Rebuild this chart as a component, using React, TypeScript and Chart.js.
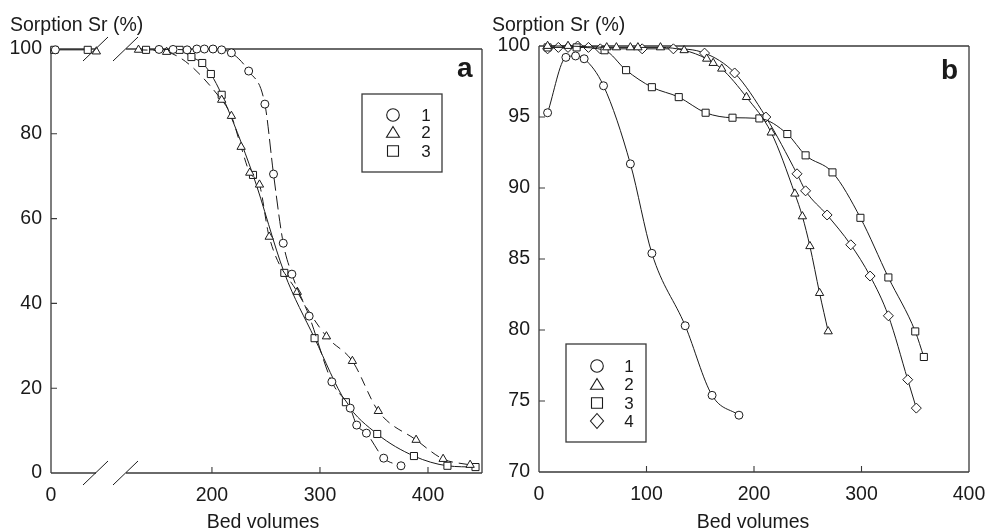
import React, { useEffect, useRef } from "react";
import { Chart, registerables } from "chart.js";

Chart.register(...registerables);

const FONT = "'Liberation Sans', Arial, Helvetica, sans-serif";
const INK = "#1a1a1a";
const FRAME = "#3a3a3a";

// ---------------- Panel a (broken x axis) ----------------
const A_GAP = 51; // axis units removed by the break
const A_X_TICKS = [0, 200, 300, 400];
const A_Y_MIN = 0;
const A_Y_MAX = 100;
const A_Y_STEP = 20;
const A_X_MAX = 450;

const A1_LEFT_X = [4];
const A1_LEFT_Y = [99.8];
const A1_X = [151, 164, 177, 186, 193, 201, 209, 218, 234, 249, 257, 266, 274, 290, 311, 328, 334, 343, 359, 375];
const A1_Y = [99.9, 99.9, 99.8, 100, 100, 100, 99.8, 99.1, 94.8, 87.0, 70.5, 54.2, 46.9, 37.0, 21.5, 15.3, 11.3, 9.4, 3.5, 1.7];

const A2_LEFT_X = [42];
const A2_LEFT_Y = [99.4];
const A2_X = [132, 158, 209, 218, 227, 235, 244, 253, 279, 306, 330, 354, 389, 414, 439];
const A2_Y = [99.8, 99.3, 88.0, 84.2, 76.9, 70.8, 68.0, 55.7, 42.7, 32.2, 26.4, 14.6, 7.8, 3.3, 1.9];

const A3_LEFT_X = [3, 34];
const A3_LEFT_Y = [99.8, 99.8];
const A3_X = [139, 170, 181, 191, 199, 209, 238, 267, 295, 324, 353, 387, 418, 444];
const A3_Y = [99.8, 99.8, 98.1, 96.7, 94.1, 89.2, 70.3, 47.2, 31.8, 16.7, 9.2, 4.0, 1.7, 1.4];

const A_LABELS = ["1", "2", "3"];

// ---------------- Panel b ----------------
const B_X_MIN = 0;
const B_X_MAX = 400;
const B_X_STEP = 100;
const B_Y_MIN = 70;
const B_Y_MAX = 100;
const B_Y_STEP = 5;

const B1_X = [8, 25, 34, 42, 60, 85, 105, 136, 161, 186];
const B1_Y = [95.3, 99.2, 99.3, 99.1, 97.2, 91.7, 85.4, 80.3, 75.4, 74.0];

const B2_X = [8, 27, 63, 72, 85, 92, 113, 135, 156, 162, 170, 193, 216, 238, 245, 252, 261, 269];
const B2_Y = [100, 100, 99.9, 99.9, 99.9, 99.9, 99.9, 99.7, 99.1, 98.8, 98.4, 96.4, 93.9, 89.6, 88.0, 85.9, 82.6, 79.9];

const B3_X = [8, 35, 61, 81, 105, 130, 155, 180, 205, 231, 248, 273, 299, 325, 350, 358];
const B3_Y = [99.9, 99.9, 99.7, 98.3, 97.1, 96.4, 95.3, 94.95, 94.9, 93.8, 92.3, 91.1, 87.9, 83.7, 79.9, 78.1];

const B4_X = [8, 18, 27, 36, 46, 57, 96, 125, 154, 182, 211, 240, 248, 268, 290, 308, 325, 343, 351];
const B4_Y = [99.8, 99.9, 99.9, 100, 99.9, 99.8, 99.8, 99.8, 99.5, 98.1, 95.0, 91.0, 89.8, 88.1, 86.0, 83.8, 81.0, 76.5, 74.5];

const B_LABELS = ["1", "2", "3", "4"];

// ---------------- helpers ----------------
const toA = (v: number) => (v < 80 ? v : v - A_GAP);
const fromA = (t: number) => (t < 60 ? t : t + A_GAP);

function pts(xs: number[], ys: number[], tf: (v: number) => number = (v) => v) {
  return xs.map((x, i) => ({ x: tf(x), y: ys[i] }));
}

function brokenPts(lx: number[], ly: number[], rx: number[], ry: number[]) {
  return [...pts(lx, ly, toA), { x: 55, y: null as any }, ...pts(rx, ry, toA)];
}

type Sym = "circle" | "triangle" | "rect" | "rectRot";
const SYM_RADIUS: Record<Sym, number> = { circle: 4, triangle: 4.8, rect: 5, rectRot: 5 };

function ds(data: any[], sym: Sym, dash: number[]) {
  return {
    data,
    borderColor: INK,
    borderWidth: 1,
    borderDash: dash,
    pointStyle: sym,
    pointRadius: SYM_RADIUS[sym],
    pointBackgroundColor: "#fff",
    pointBorderColor: INK,
    pointBorderWidth: 1,
    cubicInterpolationMode: "monotone" as const,
    spanGaps: false,
    clip: false as any,
    fill: false,
  };
}

function drawSym(ctx: CanvasRenderingContext2D, sym: Sym, x: number, y: number) {
  ctx.beginPath();
  if (sym === "circle") {
    ctx.arc(x, y, 6.3, 0, Math.PI * 2);
  } else if (sym === "triangle") {
    ctx.moveTo(x, y - 6);
    ctx.lineTo(x - 6.5, y + 4.8);
    ctx.lineTo(x + 6.5, y + 4.8);
    ctx.closePath();
  } else if (sym === "rect") {
    ctx.rect(x - 5.5, y - 5.2, 11, 10.4);
  } else {
    ctx.moveTo(x, y - 7.5);
    ctx.lineTo(x + 6.5, y);
    ctx.lineTo(x, y + 7.5);
    ctx.lineTo(x - 6.5, y);
    ctx.closePath();
  }
  ctx.fillStyle = "#fff";
  ctx.fill();
  ctx.strokeStyle = INK;
  ctx.lineWidth = 1.1;
  ctx.stroke();
}

interface Decor {
  broken: boolean;
  xTickVals: number[];
  yTickVals: number[];
  titleX: number;
  xTitleX: number;
  letter: string;
  letterX: number;
  letterY: number;
  legend: { x: number; y: number; w: number; h: number; symX: number; labX: number; rows: number[]; syms: Sym[]; labels: string[] };
}

function decorPlugin(d: Decor) {
  return {
    id: "decor" + d.letter,
    beforeDatasetsDraw(chart: any) {
      const { ctx, chartArea: ca, scales } = chart;
      const xs = scales.x;
      const ys = scales.y;
      ctx.save();
      ctx.strokeStyle = FRAME;
      ctx.lineWidth = 1.3;
      ctx.beginPath();
      // left & right
      ctx.moveTo(ca.left, ca.top);
      ctx.lineTo(ca.left, ca.bottom);
      ctx.moveTo(ca.right, ca.top);
      ctx.lineTo(ca.right, ca.bottom);
      if (d.broken) {
        const g1 = ca.left + 45;
        const g2 = ca.left + 75;
        for (const yy of [ca.top, ca.bottom]) {
          ctx.moveTo(ca.left, yy);
          ctx.lineTo(g1, yy);
          ctx.moveTo(g2, yy);
          ctx.lineTo(ca.right, yy);
        }
      } else {
        ctx.moveTo(ca.left, ca.top);
        ctx.lineTo(ca.right, ca.top);
        ctx.moveTo(ca.left, ca.bottom);
        ctx.lineTo(ca.right, ca.bottom);
      }
      ctx.stroke();
      // inward ticks
      ctx.lineWidth = 1.1;
      ctx.beginPath();
      for (const v of d.xTickVals) {
        const px = xs.getPixelForValue(v);
        if (px <= ca.left + 1 || px >= ca.right - 1) continue;
        ctx.moveTo(px, ca.bottom);
        ctx.lineTo(px, ca.bottom - 6);
      }
      for (const v of d.yTickVals) {
        const py = ys.getPixelForValue(v);
        if (py <= ca.top + 1 || py >= ca.bottom - 1) continue;
        ctx.moveTo(ca.left, py);
        ctx.lineTo(ca.left + 6, py);
      }
      ctx.stroke();
      ctx.restore();
    },
    afterDatasetsDraw(chart: any) {
      if (!d.broken) return;
      const { ctx, chartArea: ca } = chart;
      ctx.save();
      ctx.strokeStyle = INK;
      ctx.lineWidth = 1;
      ctx.beginPath();
      for (const cx of [ca.left + 44.5, ca.left + 74.5]) {
        for (const yy of [ca.top, ca.bottom]) {
          ctx.moveTo(cx - 12.5, yy + 12);
          ctx.lineTo(cx + 12.5, yy - 12);
        }
      }
      ctx.stroke();
      ctx.restore();
    },
    afterDraw(chart: any) {
      const { ctx } = chart;
      ctx.save();
      ctx.fillStyle = INK;
      ctx.textBaseline = "alphabetic";
      ctx.font = `19.5px ${FONT}`;
      ctx.textAlign = "left";
      ctx.fillText("Sorption Sr (%)", d.titleX, 31);
      ctx.textAlign = "center";
      ctx.fillText("Bed volumes", d.xTitleX, 528);
      ctx.font = `bold 28px ${FONT}`;
      ctx.textAlign = "left";
      ctx.fillText(d.letter, d.letterX, d.letterY);
      // legend
      const L = d.legend;
      ctx.strokeStyle = FRAME;
      ctx.lineWidth = 1.3;
      ctx.strokeRect(L.x, L.y, L.w, L.h);
      ctx.font = `17px ${FONT}`;
      ctx.textAlign = "center";
      ctx.textBaseline = "middle";
      L.rows.forEach((ry, i) => {
        drawSym(ctx, L.syms[i], L.symX, ry);
        ctx.fillStyle = INK;
        ctx.fillText(L.labels[i], L.labX, ry + 1);
      });
      ctx.restore();
    },
  };
}

const tickFont = { family: FONT, size: 19.5 };

function makeConfig(opts: {
  datasets: any[];
  xMin: number;
  xMax: number;
  xTicks: number[];
  xLabel: (v: number) => string;
  yMin: number;
  yMax: number;
  yStep: number;
  yWidth: number;
  xHeight: number;
  padTop: number;
  padRight: number;
  decor: Decor;
}) {
  return {
    type: "line" as const,
    data: { datasets: opts.datasets },
    options: {
      responsive: false,
      animation: false as const,
      devicePixelRatio: 1,
      parsing: true,
      layout: { padding: { left: 0, top: opts.padTop, right: opts.padRight, bottom: 0 } },
      plugins: { legend: { display: false }, tooltip: { enabled: false }, title: { display: false } },
      scales: {
        x: {
          type: "linear" as const,
          min: opts.xMin,
          max: opts.xMax,
          grid: { display: false, drawTicks: false },
          border: { display: false },
          ticks: {
            font: tickFont,
            color: INK,
            padding: 11,
            autoSkip: false,
            maxRotation: 0,
            callback: (v: any) => opts.xLabel(Number(v)),
          },
          afterBuildTicks: (s: any) => {
            s.ticks = opts.xTicks.map((v) => ({ value: v }));
          },
          afterFit: (s: any) => {
            s.height = opts.xHeight;
            s.paddingLeft = 0;
            s.paddingRight = 0;
          },
        },
        y: {
          type: "linear" as const,
          min: opts.yMin,
          max: opts.yMax,
          grid: { display: false, drawTicks: false },
          border: { display: false },
          ticks: { font: tickFont, color: INK, padding: 9, stepSize: opts.yStep },
          afterFit: (s: any) => {
            s.width = opts.yWidth;
            s.paddingTop = 0;
            s.paddingBottom = 0;
          },
        },
      },
    },
    plugins: [decorPlugin(opts.decor)],
  };
}

const range = (a: number, b: number, s: number) => {
  const r: number[] = [];
  for (let v = a; v <= b + 1e-9; v += s) r.push(v);
  return r;
};

export default function App() {
  const refA = useRef<HTMLCanvasElement>(null);
  const refB = useRef<HTMLCanvasElement>(null);

  useEffect(() => {
    const cfgA = makeConfig({
      datasets: [
        ds(brokenPts(A1_LEFT_X, A1_LEFT_Y, A1_X, A1_Y), "circle", [14, 5]),
        ds(brokenPts(A2_LEFT_X, A2_LEFT_Y, A2_X, A2_Y), "triangle", [9, 6]),
        ds(brokenPts(A3_LEFT_X, A3_LEFT_Y, A3_X, A3_Y), "rect", []),
      ],
      xMin: 0,
      xMax: toA(A_X_MAX),
      xTicks: A_X_TICKS.map(toA),
      xLabel: (t) => String(Math.round(fromA(t))),
      yMin: A_Y_MIN,
      yMax: A_Y_MAX,
      yStep: A_Y_STEP,
      yWidth: 51,
      xHeight: 58,
      padTop: 49,
      padRight: 8,
      decor: {
        broken: true,
        xTickVals: A_X_TICKS.map(toA),
        yTickVals: range(A_Y_MIN, A_Y_MAX, A_Y_STEP),
        titleX: 10,
        xTitleX: 263,
        letter: "a",
        letterX: 457,
        letterY: 77,
        legend: { x: 362, y: 94, w: 80, h: 78, symX: 393, labX: 426, rows: [115, 132.5, 151], syms: ["circle", "triangle", "rect"], labels: A_LABELS },
      },
    });
    const cfgB = makeConfig({
      datasets: [
        ds(pts(B1_X, B1_Y), "circle", []),
        ds(pts(B2_X, B2_Y), "triangle", []),
        ds(pts(B3_X, B3_Y), "rect", []),
        ds(pts(B4_X, B4_Y), "rectRot", []),
      ],
      xMin: B_X_MIN,
      xMax: B_X_MAX,
      xTicks: range(B_X_MIN, B_X_MAX, B_X_STEP),
      xLabel: (v) => String(v),
      yMin: B_Y_MIN,
      yMax: B_Y_MAX,
      yStep: B_Y_STEP,
      yWidth: 49,
      xHeight: 59,
      padTop: 46,
      padRight: 18,
      decor: {
        broken: false,
        xTickVals: range(B_X_MIN, B_X_MAX, B_X_STEP),
        yTickVals: range(B_Y_MIN, B_Y_MAX, B_Y_STEP),
        titleX: 2,
        xTitleX: 263,
        letter: "b",
        letterX: 451,
        letterY: 79,
        legend: { x: 76, y: 344, w: 80, h: 98, symX: 107, labX: 139, rows: [366, 384.5, 403, 421], syms: ["circle", "triangle", "rect", "rectRot"], labels: B_LABELS },
      },
    });
    const a = new Chart(refA.current as HTMLCanvasElement, cfgA as any);
    const b = new Chart(refB.current as HTMLCanvasElement, cfgB as any);
    return () => {
      a.destroy();
      b.destroy();
    };
  }, []);

  return (
    <div style={{ position: "fixed", left: 0, top: 0, width: 987, height: 531, background: "#fff" }}>
      <canvas ref={refA} width={490} height={531} style={{ position: "absolute", left: 0, top: 0, width: 490, height: 531 }} />
      <canvas ref={refB} width={497} height={531} style={{ position: "absolute", left: 490, top: 0, width: 497, height: 531 }} />
    </div>
  );
}
